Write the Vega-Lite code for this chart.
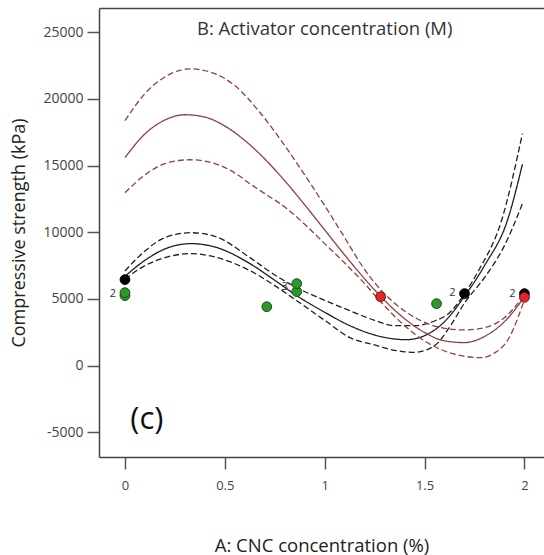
{
  "$schema": "https://vega.github.io/schema/vega-lite/v6.json",
  "width": 445,
  "height": 449,
  "autosize": {"type": "none"},
  "padding": {"left": 99, "top": 8, "right": 0, "bottom": 98},
  "background": "white",
  "config": {
    "view": {"stroke": null},
    "font": "Open Sans",
    "axis": {"grid": false}
  },
  "datasets": {
    "curves": [
      {"curve": "B1 fit", "group": "B1", "kind": "fit", "A": 0, "S": 6700},
      {"curve": "B1 fit", "group": "B1", "kind": "fit", "A": 0.1, "S": 7900},
      {"curve": "B1 fit", "group": "B1", "kind": "fit", "A": 0.2, "S": 8750},
      {"curve": "B1 fit", "group": "B1", "kind": "fit", "A": 0.33, "S": 9150},
      {"curve": "B1 fit", "group": "B1", "kind": "fit", "A": 0.45, "S": 8900},
      {"curve": "B1 fit", "group": "B1", "kind": "fit", "A": 0.626, "S": 7650},
      {"curve": "B1 fit", "group": "B1", "kind": "fit", "A": 0.75, "S": 6400},
      {"curve": "B1 fit", "group": "B1", "kind": "fit", "A": 0.86, "S": 5250},
      {"curve": "B1 fit", "group": "B1", "kind": "fit", "A": 1.0, "S": 4000},
      {"curve": "B1 fit", "group": "B1", "kind": "fit", "A": 1.126, "S": 3000},
      {"curve": "B1 fit", "group": "B1", "kind": "fit", "A": 1.25, "S": 2300},
      {"curve": "B1 fit", "group": "B1", "kind": "fit", "A": 1.35, "S": 2000},
      {"curve": "B1 fit", "group": "B1", "kind": "fit", "A": 1.41, "S": 1950},
      {"curve": "B1 fit", "group": "B1", "kind": "fit", "A": 1.5, "S": 2250},
      {"curve": "B1 fit", "group": "B1", "kind": "fit", "A": 1.6, "S": 3300},
      {"curve": "B1 fit", "group": "B1", "kind": "fit", "A": 1.7, "S": 5200},
      {"curve": "B1 fit", "group": "B1", "kind": "fit", "A": 1.8, "S": 7500},
      {"curve": "B1 fit", "group": "B1", "kind": "fit", "A": 1.915, "S": 10900},
      {"curve": "B1 fit", "group": "B1", "kind": "fit", "A": 1.99, "S": 15100},

      {"curve": "B1 upper", "group": "B1", "kind": "band", "A": 0, "S": 7100},
      {"curve": "B1 upper", "group": "B1", "kind": "band", "A": 0.1, "S": 8600},
      {"curve": "B1 upper", "group": "B1", "kind": "band", "A": 0.2, "S": 9600},
      {"curve": "B1 upper", "group": "B1", "kind": "band", "A": 0.33, "S": 9970},
      {"curve": "B1 upper", "group": "B1", "kind": "band", "A": 0.45, "S": 9700},
      {"curve": "B1 upper", "group": "B1", "kind": "band", "A": 0.626, "S": 8100},
      {"curve": "B1 upper", "group": "B1", "kind": "band", "A": 0.75, "S": 6800},
      {"curve": "B1 upper", "group": "B1", "kind": "band", "A": 0.86, "S": 5850},
      {"curve": "B1 upper", "group": "B1", "kind": "band", "A": 1.0, "S": 4900},
      {"curve": "B1 upper", "group": "B1", "kind": "band", "A": 1.126, "S": 4120},
      {"curve": "B1 upper", "group": "B1", "kind": "band", "A": 1.25, "S": 3400},
      {"curve": "B1 upper", "group": "B1", "kind": "band", "A": 1.35, "S": 3000},
      {"curve": "B1 upper", "group": "B1", "kind": "band", "A": 1.45, "S": 3000},
      {"curve": "B1 upper", "group": "B1", "kind": "band", "A": 1.55, "S": 3350},
      {"curve": "B1 upper", "group": "B1", "kind": "band", "A": 1.62, "S": 3900},
      {"curve": "B1 upper", "group": "B1", "kind": "band", "A": 1.7, "S": 5400},
      {"curve": "B1 upper", "group": "B1", "kind": "band", "A": 1.77, "S": 7120},
      {"curve": "B1 upper", "group": "B1", "kind": "band", "A": 1.885, "S": 10870},
      {"curve": "B1 upper", "group": "B1", "kind": "band", "A": 1.99, "S": 17400},

      {"curve": "B1 lower", "group": "B1", "kind": "band", "A": 0, "S": 6500},
      {"curve": "B1 lower", "group": "B1", "kind": "band", "A": 0.1, "S": 7500},
      {"curve": "B1 lower", "group": "B1", "kind": "band", "A": 0.2, "S": 8100},
      {"curve": "B1 lower", "group": "B1", "kind": "band", "A": 0.33, "S": 8400},
      {"curve": "B1 lower", "group": "B1", "kind": "band", "A": 0.45, "S": 8150},
      {"curve": "B1 lower", "group": "B1", "kind": "band", "A": 0.626, "S": 7120},
      {"curve": "B1 lower", "group": "B1", "kind": "band", "A": 0.75, "S": 6000},
      {"curve": "B1 lower", "group": "B1", "kind": "band", "A": 0.86, "S": 4870},
      {"curve": "B1 lower", "group": "B1", "kind": "band", "A": 1.0, "S": 3400},
      {"curve": "B1 lower", "group": "B1", "kind": "band", "A": 1.126, "S": 2100},
      {"curve": "B1 lower", "group": "B1", "kind": "band", "A": 1.25, "S": 1550},
      {"curve": "B1 lower", "group": "B1", "kind": "band", "A": 1.35, "S": 1150},
      {"curve": "B1 lower", "group": "B1", "kind": "band", "A": 1.45, "S": 1000},
      {"curve": "B1 lower", "group": "B1", "kind": "band", "A": 1.55, "S": 1500},
      {"curve": "B1 lower", "group": "B1", "kind": "band", "A": 1.63, "S": 3000},
      {"curve": "B1 lower", "group": "B1", "kind": "band", "A": 1.7, "S": 4700},
      {"curve": "B1 lower", "group": "B1", "kind": "band", "A": 1.8, "S": 6600},
      {"curve": "B1 lower", "group": "B1", "kind": "band", "A": 1.9, "S": 9000},
      {"curve": "B1 lower", "group": "B1", "kind": "band", "A": 1.99, "S": 12150},

      {"curve": "B2 fit", "group": "B2", "kind": "fit", "A": 0, "S": 15600},
      {"curve": "B2 fit", "group": "B2", "kind": "fit", "A": 0.1, "S": 17380},
      {"curve": "B2 fit", "group": "B2", "kind": "fit", "A": 0.2, "S": 18420},
      {"curve": "B2 fit", "group": "B2", "kind": "fit", "A": 0.3, "S": 18815},
      {"curve": "B2 fit", "group": "B2", "kind": "fit", "A": 0.4, "S": 18640},
      {"curve": "B2 fit", "group": "B2", "kind": "fit", "A": 0.5, "S": 17970},
      {"curve": "B2 fit", "group": "B2", "kind": "fit", "A": 0.6, "S": 16890},
      {"curve": "B2 fit", "group": "B2", "kind": "fit", "A": 0.7, "S": 15500},
      {"curve": "B2 fit", "group": "B2", "kind": "fit", "A": 0.8, "S": 13860},
      {"curve": "B2 fit", "group": "B2", "kind": "fit", "A": 0.9, "S": 12060},
      {"curve": "B2 fit", "group": "B2", "kind": "fit", "A": 1.0, "S": 10180},
      {"curve": "B2 fit", "group": "B2", "kind": "fit", "A": 1.1, "S": 8300},
      {"curve": "B2 fit", "group": "B2", "kind": "fit", "A": 1.2, "S": 6510},
      {"curve": "B2 fit", "group": "B2", "kind": "fit", "A": 1.3, "S": 4890},
      {"curve": "B2 fit", "group": "B2", "kind": "fit", "A": 1.4, "S": 3520},
      {"curve": "B2 fit", "group": "B2", "kind": "fit", "A": 1.5, "S": 2490},
      {"curve": "B2 fit", "group": "B2", "kind": "fit", "A": 1.6, "S": 1860},
      {"curve": "B2 fit", "group": "B2", "kind": "fit", "A": 1.7, "S": 1730},
      {"curve": "B2 fit", "group": "B2", "kind": "fit", "A": 1.8, "S": 2190},
      {"curve": "B2 fit", "group": "B2", "kind": "fit", "A": 1.9, "S": 3300},
      {"curve": "B2 fit", "group": "B2", "kind": "fit", "A": 2.0, "S": 5150},

      {"curve": "B2 upper", "group": "B2", "kind": "band", "A": 0, "S": 18370},
      {"curve": "B2 upper", "group": "B2", "kind": "band", "A": 0.1, "S": 20400},
      {"curve": "B2 upper", "group": "B2", "kind": "band", "A": 0.2, "S": 21650},
      {"curve": "B2 upper", "group": "B2", "kind": "band", "A": 0.325, "S": 22260},
      {"curve": "B2 upper", "group": "B2", "kind": "band", "A": 0.45, "S": 21900},
      {"curve": "B2 upper", "group": "B2", "kind": "band", "A": 0.55, "S": 21000},
      {"curve": "B2 upper", "group": "B2", "kind": "band", "A": 0.675, "S": 19000},
      {"curve": "B2 upper", "group": "B2", "kind": "band", "A": 0.8, "S": 16500},
      {"curve": "B2 upper", "group": "B2", "kind": "band", "A": 0.9, "S": 14300},
      {"curve": "B2 upper", "group": "B2", "kind": "band", "A": 1.0, "S": 12000},
      {"curve": "B2 upper", "group": "B2", "kind": "band", "A": 1.1, "S": 9600},
      {"curve": "B2 upper", "group": "B2", "kind": "band", "A": 1.2, "S": 7200},
      {"curve": "B2 upper", "group": "B2", "kind": "band", "A": 1.28, "S": 5700},
      {"curve": "B2 upper", "group": "B2", "kind": "band", "A": 1.4, "S": 4100},
      {"curve": "B2 upper", "group": "B2", "kind": "band", "A": 1.5, "S": 3250},
      {"curve": "B2 upper", "group": "B2", "kind": "band", "A": 1.6, "S": 2800},
      {"curve": "B2 upper", "group": "B2", "kind": "band", "A": 1.7, "S": 2680},
      {"curve": "B2 upper", "group": "B2", "kind": "band", "A": 1.8, "S": 2850},
      {"curve": "B2 upper", "group": "B2", "kind": "band", "A": 1.9, "S": 3600},
      {"curve": "B2 upper", "group": "B2", "kind": "band", "A": 2.0, "S": 5300},

      {"curve": "B2 lower", "group": "B2", "kind": "band", "A": 0, "S": 12970},
      {"curve": "B2 lower", "group": "B2", "kind": "band", "A": 0.1, "S": 14300},
      {"curve": "B2 lower", "group": "B2", "kind": "band", "A": 0.2, "S": 15150},
      {"curve": "B2 lower", "group": "B2", "kind": "band", "A": 0.325, "S": 15440},
      {"curve": "B2 lower", "group": "B2", "kind": "band", "A": 0.45, "S": 15150},
      {"curve": "B2 lower", "group": "B2", "kind": "band", "A": 0.55, "S": 14450},
      {"curve": "B2 lower", "group": "B2", "kind": "band", "A": 0.626, "S": 13640},
      {"curve": "B2 lower", "group": "B2", "kind": "band", "A": 0.7, "S": 12900},
      {"curve": "B2 lower", "group": "B2", "kind": "band", "A": 0.8, "S": 11900},
      {"curve": "B2 lower", "group": "B2", "kind": "band", "A": 0.9, "S": 10600},
      {"curve": "B2 lower", "group": "B2", "kind": "band", "A": 1.0, "S": 9150},
      {"curve": "B2 lower", "group": "B2", "kind": "band", "A": 1.1, "S": 7700},
      {"curve": "B2 lower", "group": "B2", "kind": "band", "A": 1.2, "S": 6150},
      {"curve": "B2 lower", "group": "B2", "kind": "band", "A": 1.28, "S": 4800},
      {"curve": "B2 lower", "group": "B2", "kind": "band", "A": 1.4, "S": 3000},
      {"curve": "B2 lower", "group": "B2", "kind": "band", "A": 1.5, "S": 1850},
      {"curve": "B2 lower", "group": "B2", "kind": "band", "A": 1.6, "S": 1100},
      {"curve": "B2 lower", "group": "B2", "kind": "band", "A": 1.7, "S": 700},
      {"curve": "B2 lower", "group": "B2", "kind": "band", "A": 1.78, "S": 600},
      {"curve": "B2 lower", "group": "B2", "kind": "band", "A": 1.85, "S": 950},
      {"curve": "B2 lower", "group": "B2", "kind": "band", "A": 1.92, "S": 2000},
      {"curve": "B2 lower", "group": "B2", "kind": "band", "A": 2.0, "S": 4950}
    ],
    "points": [
      {"A": 0, "S": 5250, "B": "center"},
      {"A": 0, "S": 5470, "B": "center"},
      {"A": 0.71, "S": 4420, "B": "center"},
      {"A": 0.86, "S": 5550, "B": "center"},
      {"A": 0.86, "S": 6150, "B": "center"},
      {"A": 1.56, "S": 4650, "B": "center"},
      {"A": 0, "S": 6450, "B": "B1"},
      {"A": 1.7, "S": 5400, "B": "B1"},
      {"A": 2.0, "S": 5400, "B": "B1"},
      {"A": 1.28, "S": 5170, "B": "B2"},
      {"A": 2.0, "S": 5120, "B": "B2"}
    ],
    "counts": [
      {"A": 0, "S": 5400, "n": "2"},
      {"A": 0.86, "S": 5900, "n": "3"},
      {"A": 1.7, "S": 5450, "n": "2"},
      {"A": 2.0, "S": 5400, "n": "2"}
    ]
  },
  "layer": [
    {
      "data": {"name": "curves"},
      "mark": {"type": "line", "interpolate": "monotone", "strokeWidth": 1.3},
      "encoding": {
        "x": {
          "field": "A", "type": "quantitative",
          "scale": {"domain": [-0.13, 2.098], "nice": false, "zero": false},
          "axis": {
            "values": [0, 0.5, 1, 1.5, 2],
            "format": "~g",
            "title": "A: CNC concentration (%)",
            "titleFontSize": 18.5, "titleFontWeight": "normal", "titleColor": "#222",
            "titlePadding": 44,
            "labelFontSize": 13, "labelColor": "#444", "labelPadding": 10,
            "tickSize": 12, "tickColor": "#555", "tickWidth": 1.5,
            "domainColor": "#444", "domainWidth": 1.5,
            "labelFlush": false
          }
        },
        "y": {
          "field": "S", "type": "quantitative",
          "scale": {"domain": [-6850, 26820], "nice": false, "zero": false},
          "axis": {
            "values": [-5000, 0, 5000, 10000, 15000, 20000, 25000],
            "format": "d",
            "labelExpr": "replace(datum.label, '\u2212', '-')",
            "title": "Compressive strength (kPa)",
            "titleFontSize": 18, "titleFontWeight": "normal", "titleColor": "#222",
            "titlePadding": 14,
            "labelFontSize": 14, "labelColor": "#444", "labelPadding": 4,
            "tickSize": 12, "tickColor": "#555", "tickWidth": 1.5,
            "domainColor": "#444", "domainWidth": 1.5
          }
        },
        "detail": {"field": "curve"},
        "color": {
          "field": "group", "type": "nominal",
          "scale": {"domain": ["B1", "B2"], "range": ["#1e1e1e", "#8e4040"]},
          "legend": null
        },
        "strokeDash": {
          "field": "kind", "type": "nominal",
          "scale": {"domain": ["fit", "band"], "range": [[1, 0], [6, 3]]},
          "legend": null
        }
      }
    },
    {
      "data": {"name": "points"},
      "mark": {"type": "point", "shape": "circle", "filled": true, "size": 95, "strokeWidth": 1, "opacity": 1},
      "encoding": {
        "x": {
          "field": "A", "type": "quantitative",
          "axis": {"orient": "top", "labels": false, "ticks": false, "title": null, "domainColor": "#444", "domainWidth": 1.5}
        },
        "y": {"field": "S", "type": "quantitative"},
        "fill": {
          "field": "B", "type": "nominal",
          "scale": {"domain": ["center", "B1", "B2"], "range": ["#2a9a2a", "#000000", "#e4262a"]},
          "legend": null
        },
        "stroke": {
          "field": "B", "type": "nominal",
          "scale": {"domain": ["center", "B1", "B2"], "range": ["#1a4a1a", "#000000", "#6a1010"]},
          "legend": null
        }
      }
    },
    {
      "data": {"name": "counts"},
      "mark": {"type": "text", "align": "right", "baseline": "middle", "dx": -9, "fontSize": 11, "color": "#333"},
      "encoding": {
        "x": {"field": "A", "type": "quantitative", "axis": null},
        "y": {"field": "S", "type": "quantitative"},
        "text": {"field": "n"}
      }
    },
    {
      "data": {"values": [{"A": 1.0, "S": 25250, "t": "B: Activator concentration (M)"}]},
      "mark": {"type": "text", "align": "center", "baseline": "middle", "fontSize": 18.5, "color": "#333"},
      "encoding": {
        "x": {"field": "A", "type": "quantitative", "axis": null},
        "y": {"field": "S", "type": "quantitative"},
        "text": {"field": "t"}
      }
    },
    {
      "data": {"values": [{"A": 0.11, "S": -4050, "t": "(c)"}]},
      "mark": {"type": "text", "align": "center", "baseline": "middle", "fontSize": 31, "color": "#111"},
      "encoding": {
        "x": {"field": "A", "type": "quantitative", "axis": null},
        "y": {"field": "S", "type": "quantitative"},
        "text": {"field": "t"}
      }
    }
  ],
  "resolve": {"axis": {"x": "independent"}}
}
